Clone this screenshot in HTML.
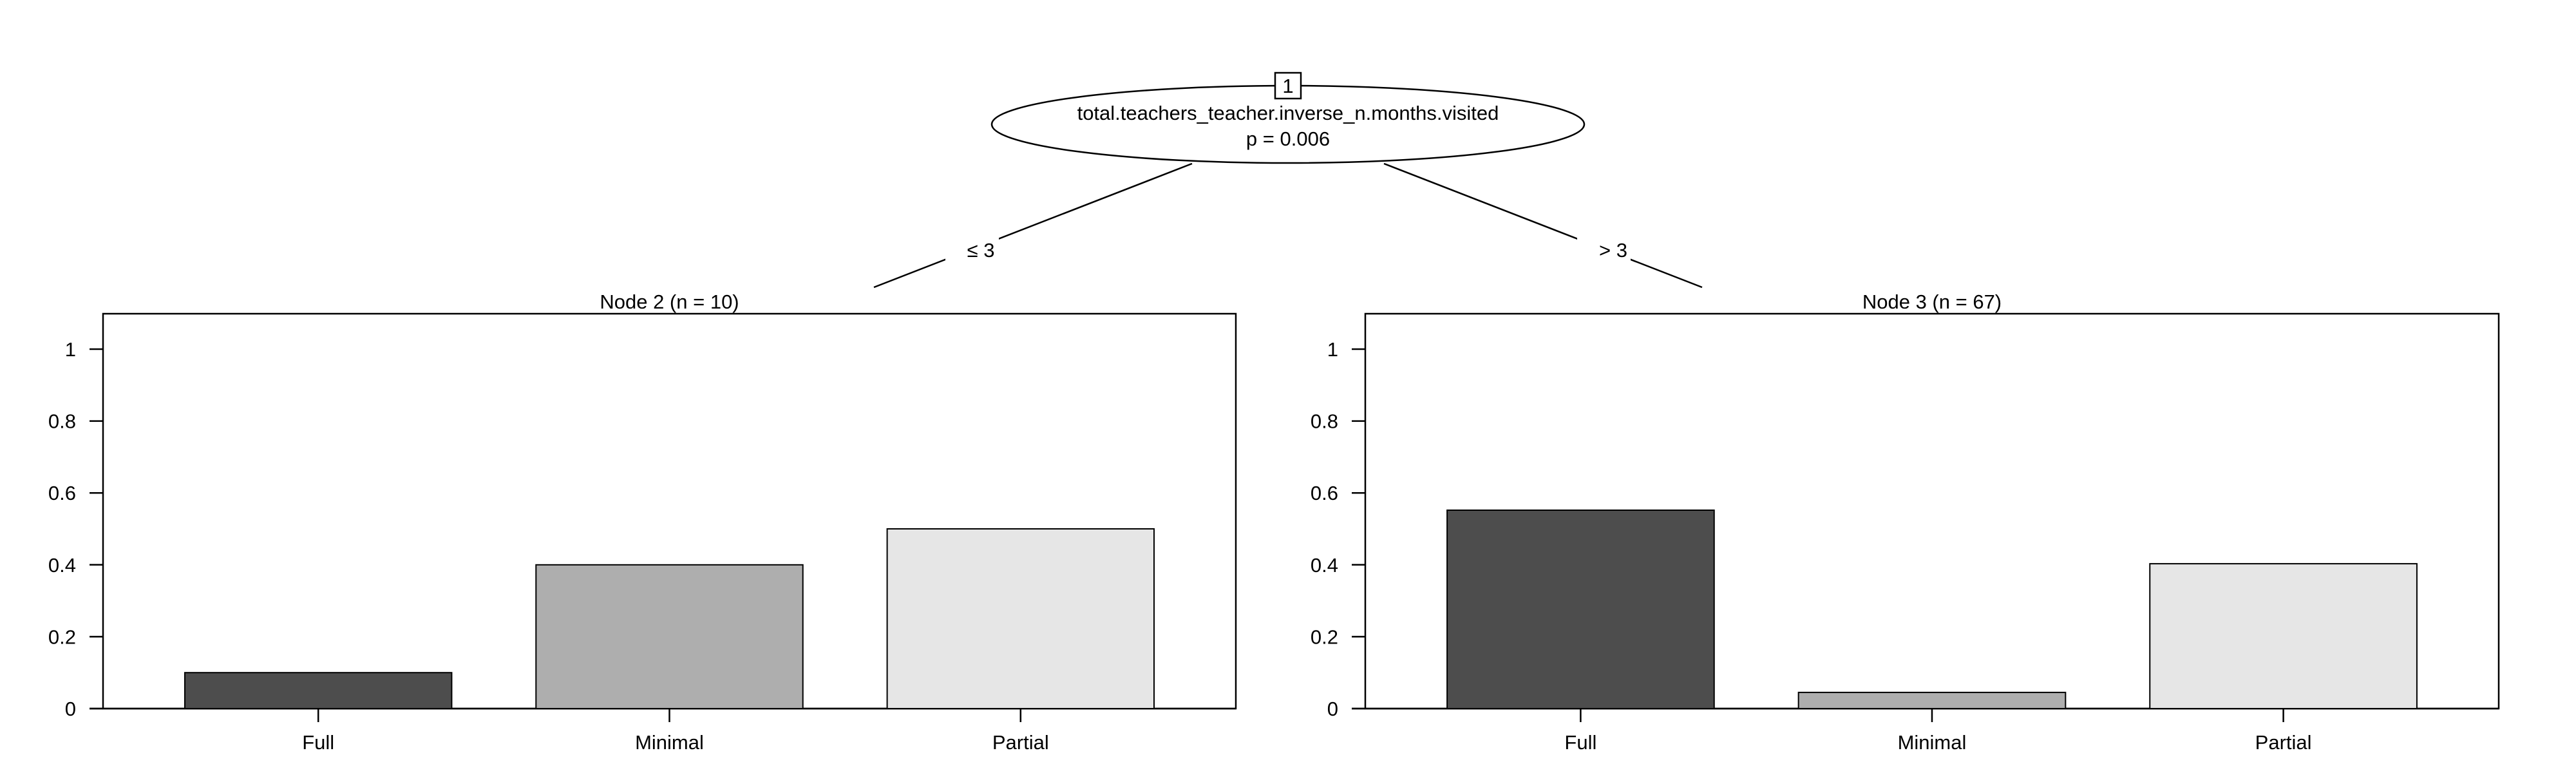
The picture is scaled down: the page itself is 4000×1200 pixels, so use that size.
<!DOCTYPE html>
<html><head><meta charset="utf-8"><style>
html,body{margin:0;padding:0;background:#fff;width:4000px;height:1200px;overflow:hidden}
svg{display:block;font-family:"Liberation Sans",sans-serif}
</style></head><body>
<svg id="chart" width="4000" height="1200" viewBox="0 0 4000 1200" xmlns="http://www.w3.org/2000/svg">
<g>
<line x1="1851" y1="254" x2="1357" y2="446" stroke="#000" stroke-width="2.5"/>
<line x1="2149" y1="254" x2="2643" y2="446" stroke="#000" stroke-width="2.5"/>
<rect x="1468" y="360" width="83" height="56" fill="#fff"/>
<rect x="2449" y="360" width="83" height="56" fill="#fff"/>
<text x="1523" y="399" font-size="31" text-anchor="middle">≤ 3</text>
<text x="2505" y="399" font-size="31" text-anchor="middle">&gt; 3</text>
<ellipse cx="2000" cy="193" rx="460" ry="60" fill="#fff" stroke="#000" stroke-width="2.5"/>
<rect x="1980" y="113" width="40" height="40" fill="#fff" stroke="#000" stroke-width="2.5"/>
<text x="2000" y="144" font-size="31" text-anchor="middle">1</text>
<text x="2000" y="186" font-size="31" text-anchor="middle">total.teachers_teacher.inverse_n.months.visited</text>
<text x="2000" y="226" font-size="31" text-anchor="middle">p = 0.006</text>
</g>
<g id="panels"></g>
</svg>
<script>
const categories = ["Full","Minimal","Partial"];
const node2Values = [0.1, 0.4, 0.5];
const node3Values = [0.552, 0.045, 0.403];
const yTicks = [0, 0.2, 0.4, 0.6, 0.8, 1];
const yTickLabels = ["0","0.2","0.4","0.6","0.8","1"];
const panelTitles = ["Node 2 (n = 10)","Node 3 (n = 67)"];
const fills = ["#4d4d4d","#aeaeae","#e6e6e6"];

const NS = "http://www.w3.org/2000/svg";
const panelsG = document.getElementById("panels");
function mk(tag, attrs, parent){const e=document.createElementNS(NS,tag);for(const k in attrs)e.setAttribute(k,attrs[k]);parent.appendChild(e);return e;}
const y0 = 1100, unit = 558, topY = 487;
function yScale(v){return y0 - v*unit;}
function drawPanel(left, right, values, title, idx){
  const p = mk("g",{},panelsG);
  
  
  const w = right-left, pad = w*0.035, slot=(w-2*pad)/3, bw = slot*0.76;
  const box = mk("rect",{x:left,y:topY,width:w,height:y0-topY,fill:"none",stroke:"#000","stroke-width":2.5},p);
  
  
  const t = mk("text",{x:(left+right)/2,y:topY-8,"font-size":31,"text-anchor":"middle"},p);
  t.textContent = title;
  
  
  yTicks.forEach((v,i)=>{
    const tk = mk("line",{x1:left-21,x2:left,y1:yScale(v),y2:yScale(v),stroke:"#000","stroke-width":2.5},p);
    
    
    const tl = mk("text",{x:left-42,y:yScale(v)+11,"font-size":31,"text-anchor":"end"},p);
    tl.textContent = yTickLabels[i];
    
    
  });
  mk("line",{x1:left-21,x2:right,y1:y0,y2:y0,stroke:"#000","stroke-width":2.5},p);
  categories.forEach((c,i)=>{
    const cx = left+pad+slot*(i+0.5);
    const b = mk("rect",{x:cx-bw/2,y:yScale(values[i]),width:bw,height:values[i]*unit,fill:fills[i],stroke:"#000","stroke-width":2},p);
    
    
    mk("line",{x1:cx,x2:cx,y1:y0,y2:y0+21,stroke:"#000","stroke-width":2.5},p);
    const xl = mk("text",{x:cx,y:1163,"font-size":31,"text-anchor":"middle"},p);
    xl.textContent = c;
    
    
  });
}
drawPanel(160, 1919, node2Values, panelTitles[0], 0);
drawPanel(2120, 3880, node3Values, panelTitles[1], 1);
</script>
</body></html>
